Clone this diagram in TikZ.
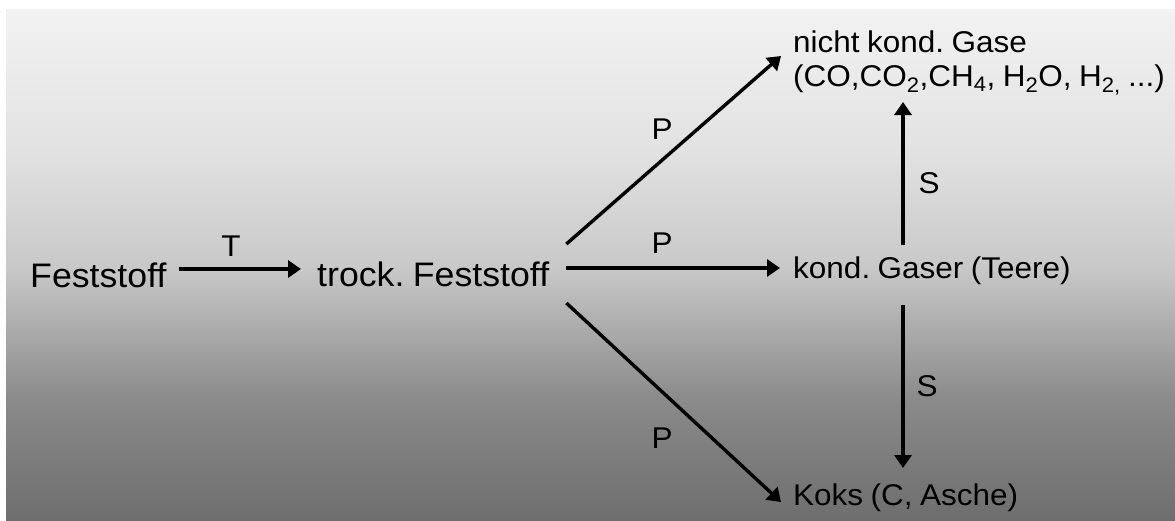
\documentclass[tikz,border=0pt]{standalone}
\usepackage{fontspec}
\setmainfont{Liberation Sans}[FakeStretch=1.05,WordSpace=0.85]
\usetikzlibrary{arrows.meta,calc}
\frenchspacing

% panel gradient: light grey at the top, dark grey at the bottom
\definecolor{gA}{RGB}{110,110,110}
\definecolor{gB}{RGB}{138,138,138}
\definecolor{gC}{RGB}{200,200,200}
\definecolor{gD}{RGB}{226,226,226}
\definecolor{gE}{RGB}{242,242,242}
\pgfdeclareverticalshading{panelgrad}{100bp}{%
  color(0bp)=(gA); color(25bp)=(gA); color(36.74bp)=(gB);
  color(49.66bp)=(gC); color(61.2bp)=(gD); color(75bp)=(gE); color(100bp)=(gE)}

\newcommand\bigtxt{\fontsize{34}{40}\selectfont}
\newcommand\nodetxt{\fontsize{30}{34}\selectfont}

\tikzset{
  big/.style={inner sep=0pt, anchor=base west, font=\bigtxt\frenchspacing},
  product/.style={inner sep=0pt, anchor=base west, font=\nodetxt\frenchspacing},
  lbl/.style={inner sep=0pt, font=\nodetxt},
  flow/.style={line width=3.4pt, -{Triangle[length=13pt,width=17pt]}},
  vflow/.style={flow, line width=3.8pt},
}

\begin{document}
\begin{tikzpicture}[x=1pt,y=-1pt]
  \useasboundingbox (0,0) rectangle (1175,520);
  \fill[white] (0,0) rectangle (1175,520);
  \shade[shading=panelgrad] (6,9) rectangle (1175,520);

  % substances
  \node[big] (fest)  at (30,287)  {Feststoff};
  \node[big] (trock) at (317,286) {trock. Feststoff};
  \node[product] (gas) at (793,52) {\begin{tabular}[t]{@{}l@{}}nicht kond. Gase\\
      (CO,CO\textsubscript{2},CH\textsubscript{4}, H\textsubscript{2}O, H\textsubscript{2,} ...)\end{tabular}};
  \node[product] (teer) at (793,278) {kond. Gaser (Teere)};
  \node[product] (koks) at (793,505) {Koks (C, Asche)};

  % drying
  \draw[flow] ($(fest.base east)+(12,-18)$) -- ($(trock.base west)+(-16,-17)$);
  % pyrolysis
  \draw[flow] ($(trock.base east)+(17,-42)$) -- ($(gas.base west)+(-12,4)$);
  \draw[flow] ($(trock.base east)+(17,-18)$) -- ($(teer.base west)+(-13,-10)$);
  \draw[flow] ($(trock.base east)+(17,17)$)  -- ($(koks.base west)+(-12,-3)$);
  % secondary reactions
  \draw[vflow] ($(teer.base west)+(110,-33)$) -- ($(gas.base west)+(110,50)$);
  \draw[vflow] ($(teer.base west)+(110,27)$)  -- ($(koks.base west)+(110,-37)$);

  % arrow labels
  \node[lbl] (lT)  at (231,246) {T};
  \node[lbl] (lP1) at (662,129) {P};
  \node[lbl] (lP2) at (662,243) {P};
  \node[lbl] (lP3) at (662,438) {P};
  \node[lbl] (lS1) at (929,183) {S};
  \node[lbl] (lS2) at (927,386) {S};
\end{tikzpicture}
\end{document}
